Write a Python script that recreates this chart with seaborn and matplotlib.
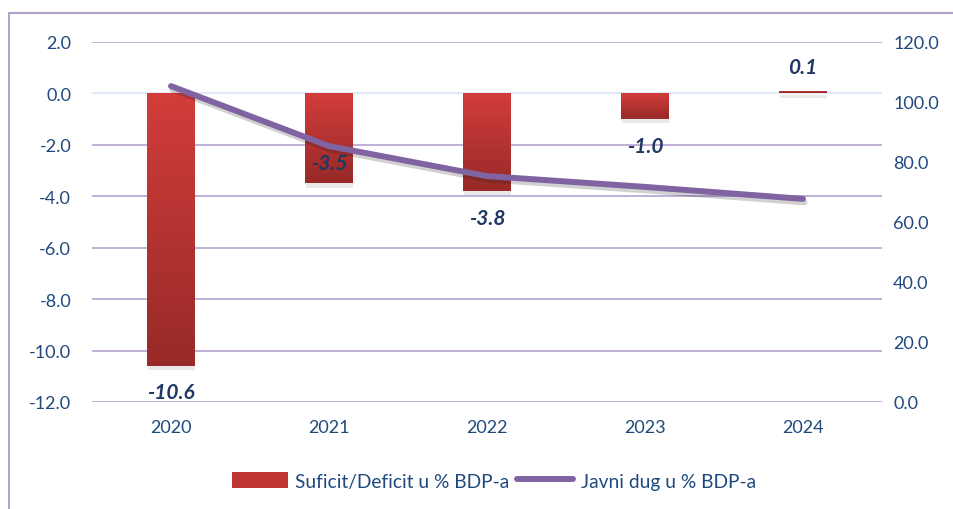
import matplotlib
matplotlib.use("Agg")
import matplotlib.pyplot as plt
import matplotlib.patheffects as pe
from matplotlib.colors import LinearSegmentedColormap
from matplotlib.lines import Line2D
from matplotlib.patches import Patch
import numpy as np
import pandas as pd
import seaborn as sns

# data
years = ["2020", "2021", "2022", "2023", "2024"]
balance = [-10.6, -3.5, -3.8, -1.0, 0.1]      # Suficit/Deficit u % BDP-a
debt = [105.3, 85.3, 75.3, 71.7, 67.7]        # Javni dug u % BDP-a
left_ticks = [-12, -10, -8, -6, -4, -2, 0, 2]
right_ticks = [0, 20, 40, 60, 80, 100, 120]

bar_name = "Suficit/Deficit u % BDP-a"
line_name = "Javni dug u % BDP-a"

df = pd.DataFrame({"year": years, "balance": balance, "debt": debt})

sns.set_theme(style="white")
plt.rcParams["font.family"] = ["Lato", "DejaVu Sans"]

tick_col = "#1f497d"
label_col = "#1f3864"
grid_col = "#b9a9d3"
zero_col = "#dce6f6"
line_col = "#8064a2"

fig = plt.figure(figsize=(9.54, 5.10), dpi=100)
ax = fig.add_axes([92 / 954, 1 - 403 / 510, 790 / 954, 360 / 510])

shadow = [pe.SimplePatchShadow(offset=(0.5, -3), shadow_rgbFace="#888888", alpha=0.18), pe.Normal()]
sns.barplot(data=df, x="year", y="balance", ax=ax, width=0.3, color="#c03434",
            saturation=1, zorder=3)
ax.set_ylim(-12, 2)
ax.set_xlim(-0.5, 4.5)

# vertical gradient fill for bars
cmap = LinearSegmentedColormap.from_list("redgrad", ["#d23d3b", "#972a28"])
grad = np.linspace(0, 1, 256).reshape(-1, 1)
for p in list(ax.patches):
    p.set_path_effects(shadow)
    p.set_edgecolor("none")
    x0, y0 = p.get_x(), p.get_y()
    w, h = p.get_width(), p.get_height()
    top, bot = max(y0, y0 + h), min(y0, y0 + h)
    im = ax.imshow(grad, cmap=cmap, aspect="auto", extent=(x0, x0 + w, bot, top),
                   origin="upper", zorder=4)
    im.set_clip_path(p)
ax.set_ylim(-12, 2)
ax.set_xlim(-0.5, 4.5)

ax.set_yticks(left_ticks)
ax.set_yticklabels([f"{v:.1f}" for v in left_ticks])
ax.yaxis.grid(True, color=grid_col, lw=1.3, zorder=0)
ax.set_axisbelow(True)
for val, gl in zip(left_ticks, ax.get_ygridlines()):
    if val == 0:
        gl.set_color(zero_col)
ax.tick_params(axis="y", length=0, pad=15, labelsize=13, labelcolor=tick_col)
ax.tick_params(axis="x", length=0, pad=12, labelsize=13, labelcolor=tick_col)
ax.set_xlabel("")
ax.set_ylabel("")
for s in ax.spines.values():
    s.set_visible(False)

# value labels
offsets = [-19, 15, -19, -19, 17]
for i, v in enumerate(balance):
    ax.annotate(f"{v:.1f}", (i, v), xytext=(0, offsets[i]), textcoords="offset points",
                ha="center", va="center", fontsize=15, fontweight="bold",
                fontstyle="italic", color=label_col, zorder=6)

# debt line on secondary axis
ax2 = ax.twinx()
sns.lineplot(x=np.arange(len(years)), y=debt, ax=ax2, color=line_col, lw=4.3,
             solid_capstyle="round", zorder=5,
             path_effects=[pe.SimpleLineShadow(offset=(1, -2.5), alpha=0.2), pe.Normal()])
ax2.set_ylim(0, 120)
ax2.set_yticks(right_ticks)
ax2.set_yticklabels([f"{v:.1f}" for v in right_ticks])
ax2.tick_params(axis="y", length=0, pad=8, labelsize=13, labelcolor=tick_col)
ax2.grid(False)
for s in ax2.spines.values():
    s.set_visible(False)
ax2.set_zorder(ax.get_zorder() + 1)
ax2.patch.set_visible(False)

# legend
handles = [Patch(facecolor="#bf3635", edgecolor="none"),
           Line2D([0], [0], color=line_col, lw=4.3)]
fig.legend(handles, [bar_name, line_name], loc="center", bbox_to_anchor=(494 / 954, 1 - 482 / 510),
           ncol=2, frameon=False, fontsize=13.8, labelcolor=tick_col, handlelength=2.9,
           handleheight=0.9, columnspacing=0.4, handletextpad=0.4)

# outer frame (top and left edges visible)
fig.add_artist(Line2D([9 / 954, 1], [1 - 14 / 510, 1 - 14 / 510], color="#b4a0cc", lw=1.5,
                      transform=fig.transFigure))
fig.add_artist(Line2D([9 / 954, 9 / 954], [0, 1 - 14 / 510], color="#b4a0cc", lw=1.5,
                      transform=fig.transFigure))

fig.savefig("out.png", dpi=100)
